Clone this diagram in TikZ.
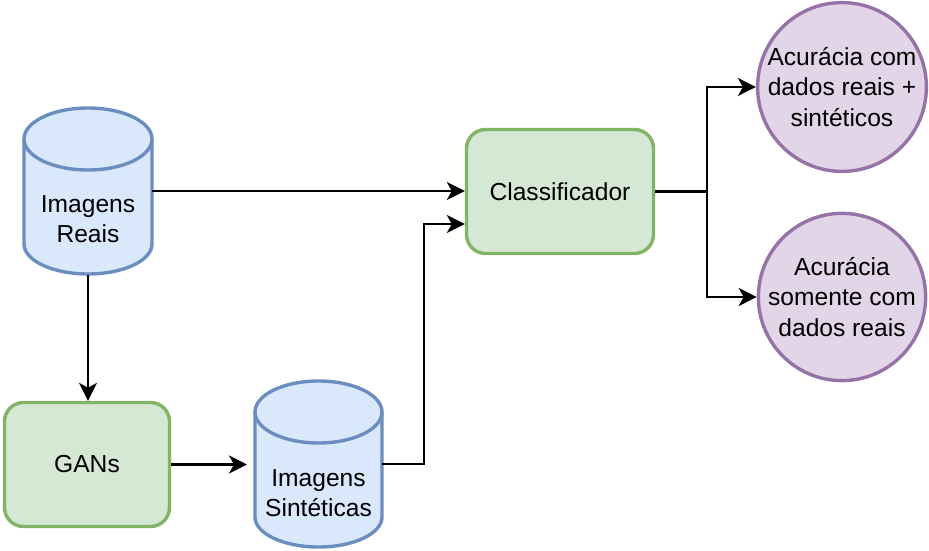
\documentclass[tikz,border=0pt]{standalone}
\usepackage{fontspec}
\setmainfont{Liberation Sans}
\usetikzlibrary{arrows.meta}
\definecolor{dbfill}{HTML}{DAE8FC}
\definecolor{dbline}{HTML}{6C8EBF}
\definecolor{procfill}{HTML}{D5E8D4}
\definecolor{procline}{HTML}{82B366}
\definecolor{accfill}{HTML}{E1D5E7}
\definecolor{accline}{HTML}{9673A6}
\tikzset{
  dbase/.style={rectangle, minimum width=125pt, minimum height=165pt, inner sep=0pt, outer sep=1.5pt},
  dbshape/.style={draw=dbline, fill=dbfill, line width=3.4pt},
  procbox/.style={rectangle, rounded corners=19pt, draw=procline, fill=procfill,
    line width=3.4pt, minimum height=124pt},
  accnode/.style={circle, draw=accline, fill=accfill, line width=3.4pt,
    minimum size=166pt, inner sep=0pt},
  lbl/.style={align=center, font=\fontsize{24.6}{30.5}\selectfont},
  arr/.style={-{Stealth[length=18pt,width=18pt,inset=5pt]}, line width=2.2pt}
}
\newcommand{\dbcyl}[2]{%
  \filldraw[dbshape] ([yshift=-32pt]#1.north west) -- ([yshift=31pt]#1.south west)
    arc[start angle=180, end angle=360, x radius=#2, y radius=30pt]
    -- ([yshift=-32pt]#1.north east)
    arc[start angle=0, end angle=180, x radius=#2, y radius=31pt] -- cycle;
  \draw[dbshape, fill=none] ([yshift=-32pt]#1.north west)
    arc[start angle=180, end angle=360, x radius=#2, y radius=31pt];
}
\begin{document}
\begin{tikzpicture}[x=1pt, y=-1pt]
            \useasboundingbox (0, 0) rectangle (929, 551);
            \node[dbase] (reais) at (88, 191) {};
            \dbcyl{reais}{64pt}
            \node[lbl] (reaisTxt) at (88, 219) {Imagens\\Reais};
            \node[procbox, lbl, minimum width=187pt] (cls) at (560, 191.5) {Classificador};
            \node[procbox, lbl, minimum width=165pt] (gans) at (87, 464.5) {GANs};
            \node[dbase, minimum width=124pt] (sint) at (318.5, 464) {};
            \dbcyl{sint}{63.5pt}
            \node[lbl] (sintTxt) at (318.5, 493) {Imagens\\Sintéticas};
            \node[accnode, lbl] (accMix) at (842, 87) {Acurácia com\\dados reais +\\sintéticos};
            \node[accnode, lbl] (accReal) at (842, 297) {Acurácia\\somente com\\dados reais};
            \coordinate (split) at ([xshift=52pt]cls.east);
            \coordinate (join) at (424, 224);
            \draw[arr] (reais.east) -- (reais.east -| cls.west);
            \draw[arr] (reais.south) -- (reais.south |- gans.north);
            \draw[arr, shorten >=8pt] (gans.east) -- (gans.east -| sint.west);
            \draw[arr] (sint.east) -| (join) -- (join -| cls.west);
            \draw[line width=2.2pt] (cls.east) -- (split);
            \draw[arr] (split) |- (accMix.west);
            \draw[arr] (split) |- (accReal.west);
        \end{tikzpicture}
\end{document}
